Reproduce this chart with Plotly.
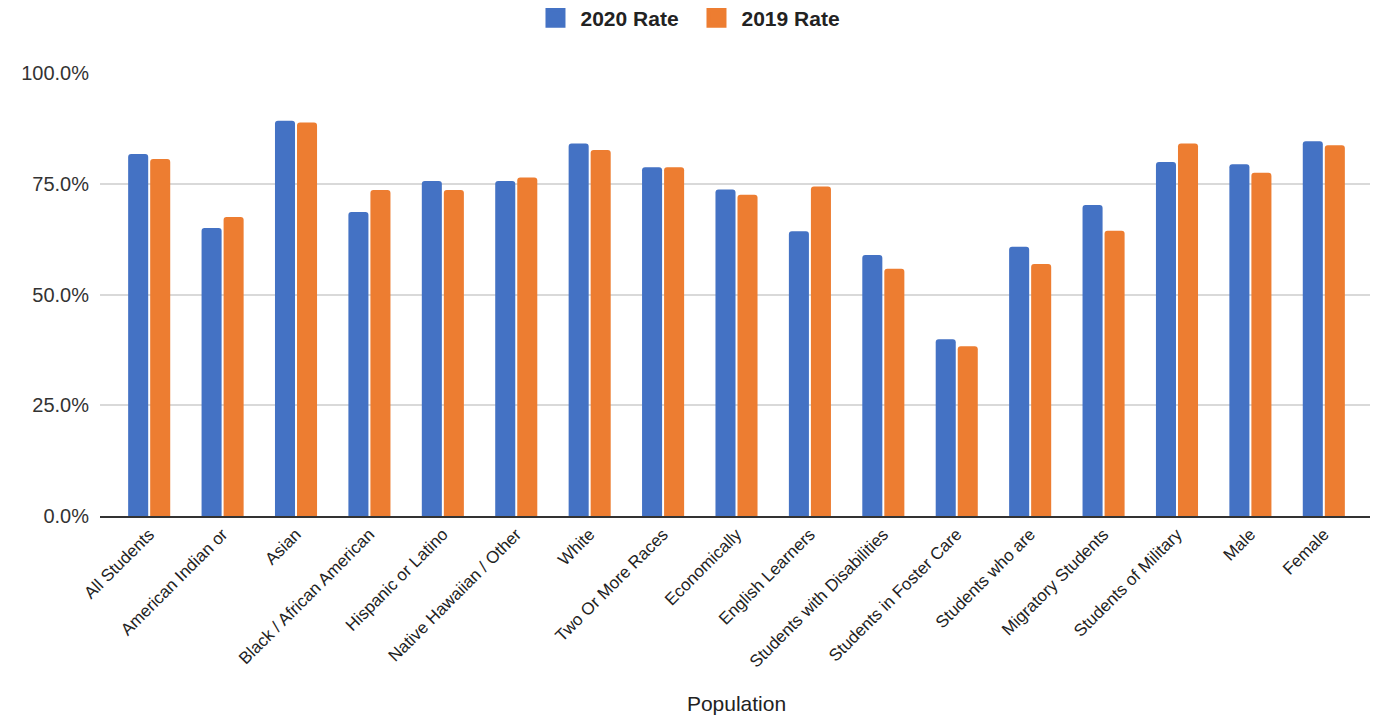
import plotly.graph_objects as go

categories = [
    "All Students", "American Indian or", "Asian", "Black / African American",
    "Hispanic or Latino", "Native Hawaiian / Other", "White", "Two Or More Races",
    "Economically", "English Learners", "Students with Disabilities",
    "Students in Foster Care", "Students who are", "Migratory Students",
    "Students of Military", "Male", "Female",
]
rate_2020 = [0.817, 0.650, 0.892, 0.686, 0.756, 0.756, 0.841, 0.787,
             0.737, 0.643, 0.589, 0.399, 0.608, 0.702, 0.799, 0.794, 0.846]
rate_2019 = [0.806, 0.675, 0.888, 0.736, 0.736, 0.764, 0.826, 0.787,
             0.725, 0.744, 0.558, 0.383, 0.569, 0.644, 0.841, 0.775, 0.837]
series_names = ["2020 Rate", "2019 Rate"]
series_colors = ["#4472C4", "#ED7D31"]
y_ticks = [0, 0.25, 0.5, 0.75, 1.0]

fig = go.Figure()
for name, vals, col in zip(series_names, [rate_2020, rate_2019], series_colors):
    fig.add_trace(go.Bar(name=name, x=categories, y=vals, showlegend=False,
                         legendgroup=name,
                         marker=dict(color=col, line=dict(width=0))))
# legend-only entries with larger square swatches
for name, col in zip(series_names, series_colors):
    fig.add_trace(go.Scatter(name=name, x=[None], y=[None], mode="markers",
                             legendgroup=name, showlegend=True,
                             marker=dict(symbol="square", size=16, color=col,
                                         line=dict(color=col, width=4))))

fig.update_layout(
    width=1378, height=715,
    margin=dict(l=92, r=13, t=65, b=207),
    paper_bgcolor="white", plot_bgcolor="white",
    barmode="group", bargap=0.4, bargroupgap=0.09, barcornerradius=3,
    font=dict(family="Liberation Sans, Arial, sans-serif", color="#222222"),
    showlegend=True,
    legend=dict(orientation="h", x=0.496, xanchor="center", xref="container",
                y=0.986, yanchor="middle", yref="container",
                font=dict(size=21, color="#222222", weight="bold"),
                itemwidth=40, entrywidth=106, entrywidthmode="pixels",
                traceorder="normal", itemclick=False),
    xaxis=dict(
        type="category",
        range=[-0.67, 16.67], tickangle=-45, tickfont=dict(size=17, color="#222222"),
        showgrid=False, showline=True, linecolor="#333333", linewidth=1.5,
        ticks="", title=dict(text="Population", font=dict(size=21, color="#222222"), standoff=26),
    ),
    yaxis=dict(
        range=[0, 1.0], tickvals=y_ticks, tickformat=".1%",
        tickfont=dict(size=20, color="#333333"), showgrid=True,
        gridcolor="#D9D9D9", gridwidth=1.5, zeroline=False, ticks="",
        ticklabelstandoff=10,
    ),
)
fig.write_html("out.html")
